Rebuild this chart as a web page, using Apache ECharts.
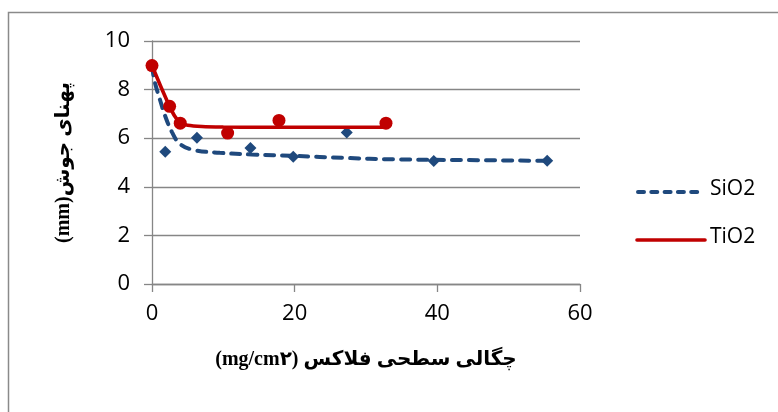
<!DOCTYPE html>
<html>
<head>
<meta charset="utf-8">
<script src="https://cdn.jsdelivr.net/npm/echarts@6/dist/echarts.min.js"></script>
<style>html,body{margin:0;padding:0;background:#fff}#c{width:778px;height:412px}</style>
</head>
<body>
<div id="c"></div>
<script>
// SiO2 measured points
const sio2X = [0, 1.86, 6.3, 13.8, 19.8, 27.3, 39.5, 55.4];
const sio2Y = [9.0, 5.44, 6.02, 5.6, 5.24, 6.23, 5.06, 5.07];
// TiO2 measured points
const tio2X = [0, 2.47, 3.96, 10.6, 17.8, 32.8];
const tio2Y = [8.99, 7.31, 6.62, 6.21, 6.73, 6.62];
// Trend curves
const sio2TrendX = [0, 0.4, 1.1, 1.8, 2.8, 3.9, 5.8, 9.5, 14, 20, 27, 34, 44, 55.4];
const sio2TrendY = [8.95, 8.3, 7.6, 6.95, 6.25, 5.77, 5.52, 5.4, 5.33, 5.27, 5.19, 5.13, 5.1, 5.07];
const tio2TrendX = [0, 1.2, 2.47, 3.2, 3.96, 5, 7, 10, 15, 20, 27, 32.8];
const tio2TrendY = [8.99, 8.15, 7.31, 6.9, 6.63, 6.53, 6.48, 6.46, 6.45, 6.45, 6.45, 6.45];
// Axis ticks
const xTicks = {min: 0, max: 60, interval: 20};
const yTicks = {min: 0, max: 10, interval: 2};
const legendNames = ['SiO2', 'TiO2'];
const xTitle = '(mg/cm۲) چگالی سطحی فلاکس';
const yTitle = '(mm)پهنای جوش';

const zip = (xs, ys) => xs.map((x, i) => [x, ys[i]]);
const blue = '#1F497D';
const red = '#C00000';
const gridGray = '#868686';
const labelFont = 'Open Sans';
const titleFont = 'Liberation Serif, DejaVu Sans';

const chart = echarts.init(document.getElementById('c'), null, {renderer: 'canvas'});
chart.setOption({
  animation: false,
  backgroundColor: '#fff',
  graphic: [
    {type: 'rect', shape: {x: 8.5, y: 12.5, width: 800, height: 420},
     style: {fill: 'none', stroke: '#8a8a8a', lineWidth: 1.5}, z: -1},
    {type: 'line', shape: {x1: 638, y1: 192, x2: 704, y2: 192},
     style: {stroke: blue, lineWidth: 4, lineDash: [6, 7.3], lineCap: 'round'}},
    {type: 'text', left: 710, top: 179,
     style: {text: legendNames[0], fontFamily: labelFont, fontSize: 21, fill: '#000'}},
    {type: 'line', shape: {x1: 637, y1: 240, x2: 705, y2: 240},
     style: {stroke: red, lineWidth: 3.6, lineCap: 'round'}},
    {type: 'text', left: 710, top: 227,
     style: {text: legendNames[1], fontFamily: labelFont, fontSize: 21, fill: '#000'}}
  ],
  grid: {left: 152, top: 41, width: 428, height: 243, containLabel: false},
  xAxis: {
    type: 'value', min: xTicks.min, max: xTicks.max, interval: xTicks.interval,
    splitLine: {show: false},
    axisLine: {show: true, onZero: false, lineStyle: {color: gridGray, width: 1.3}},
    axisTick: {show: true, length: 8, lineStyle: {color: gridGray, width: 1.3}},
    axisLabel: {margin: 19, fontFamily: labelFont, fontSize: 22, color: '#000'},
    name: xTitle, nameLocation: 'middle', nameGap: 66,
    nameTextStyle: {fontFamily: titleFont, fontWeight: 'bold', fontSize: 20, color: '#000'}
  },
  yAxis: {
    type: 'value', min: yTicks.min, max: yTicks.max, interval: yTicks.interval,
    splitLine: {show: true, lineStyle: {color: gridGray, width: 1.3}},
    axisLine: {show: true, lineStyle: {color: gridGray, width: 1.3}},
    axisTick: {show: true, length: 8, lineStyle: {color: gridGray, width: 1.3}},
    axisLabel: {margin: 22, fontFamily: labelFont, fontSize: 22, color: '#000'},
    name: yTitle, nameLocation: 'middle', nameGap: 78, nameRotate: 90,
    nameTextStyle: {fontFamily: titleFont, fontWeight: 'bold', fontSize: 20, color: '#000'}
  },
  series: [
    {
      name: 'SiO2', type: 'line', data: zip(sio2TrendX, sio2TrendY), smooth: 0.4,
      symbol: 'none', showSymbol: false,
      lineStyle: {color: blue, width: 4, type: [9, 8], cap: 'round'},
      itemStyle: {color: blue}, z: 2
    },
    {
      name: 'SiO2 points', type: 'scatter', data: zip(sio2X, sio2Y),
      symbol: 'diamond', symbolSize: 12, itemStyle: {color: blue, opacity: 1}, z: 3
    },
    {
      name: 'TiO2', type: 'line', data: zip(tio2TrendX, tio2TrendY), smooth: 0.3,
      symbol: 'none', showSymbol: false,
      lineStyle: {color: red, width: 3.6}, itemStyle: {color: red}, z: 4
    },
    {
      name: 'TiO2 points', type: 'scatter', data: zip(tio2X, tio2Y),
      symbol: 'circle', symbolSize: 13, itemStyle: {color: red, opacity: 1}, z: 5
    }
  ]
});
</script>
</body>
</html>
